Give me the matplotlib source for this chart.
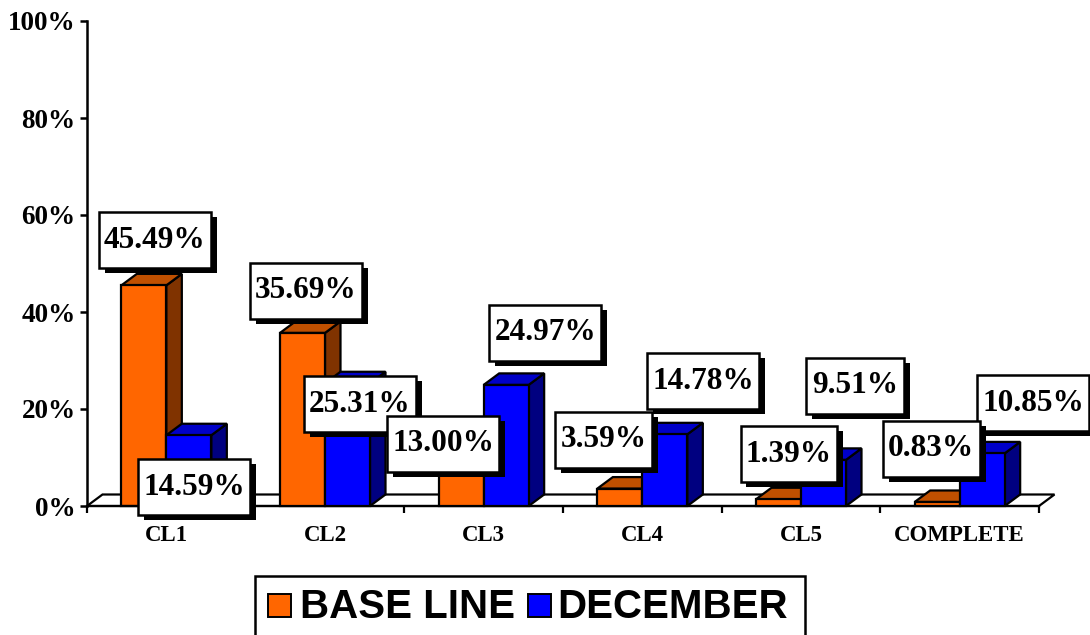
import matplotlib
matplotlib.use('Agg')
import matplotlib.pyplot as plt
from matplotlib.patches import Polygon, Rectangle

# ---------------- data ----------------
categories = ['CL1', 'CL2', 'CL3', 'CL4', 'CL5', 'COMPLETE']
base_line = [45.49, 35.69, 13.00, 3.59, 1.39, 0.83]
december = [14.59, 25.31, 24.97, 14.78, 9.51, 10.85]
series_names = ['BASE LINE', 'DECEMBER']
y_ticks = [0, 20, 40, 60, 80, 100]
y_tick_labels = ['0%', '20%', '40%', '60%', '80%', '100%']

# ---------------- layout / style ----------------
# label centre offsets from the top-front-centre of each bar, in pixels (x right, y down)
base_label_off = [(11, -45), (3.5, -42), (-18, 1), (-16, -49), (10.5, -45), (-6, -53)]
dec_label_off = [(5, 52), (12.5, 21), (39, -52), (38, -53), (31.5, -74), (51, -50)]

ORANGE = ('#FF6600', '#C05000', '#803300')   # front, top, side
BLUE = ('#0000FF', '#0000C8', '#000080')
SERIF = 'Liberation Serif'
SANS = 'Liberation Sans'

W, H = 1090, 635
fig = plt.figure(figsize=(W / 100, H / 100), dpi=100)
L, R, B, T = 87, 1039, 506, 21
ax = fig.add_axes([L / W, (H - B) / H, (R - L) / W, (B - T) / H])
n = len(categories)
ax.set_xlim(0, n)
ax.set_ylim(0, 100)
ux = (R - L) / n
uy = (B - T) / 100.0


def pdx(p):
    return p / ux


def pdy(p):
    return p / uy


DX = pdx(15.5)
DY = pdy(11.5)
BW = pdx(45)

# floor
ax.add_patch(Polygon([(0, 0), (n, 0), (n + DX, DY), (DX, DY)], closed=True,
                     facecolor='white', edgecolor='black', lw=1.6,
                     clip_on=False, zorder=1))


def draw_bar(x0, v, cols, z):
    front, top, side = cols
    ax.add_patch(Polygon([(x0 + BW, 0), (x0 + BW + DX, DY), (x0 + BW + DX, v + DY), (x0 + BW, v)],
                         closed=True, facecolor=side, edgecolor='black', lw=1.6,
                         clip_on=False, zorder=z))
    ax.add_patch(Polygon([(x0, v), (x0 + BW, v), (x0 + BW + DX, v + DY), (x0 + DX, v + DY)],
                         closed=True, facecolor=top, edgecolor='black', lw=1.6,
                         clip_on=False, zorder=z))
    ax.add_patch(Rectangle((x0, 0), BW, v, facecolor=front, edgecolor='black', lw=1.6,
                           clip_on=False, zorder=z + 0.1))


z = 2
for i in range(n):
    c = i + 0.5
    draw_bar(c - BW, base_line[i], ORANGE, z)
    z += 0.5
    draw_bar(c, december[i], BLUE, z)
    z += 0.5


def draw_label(xc, v, off, text, zl):
    cx = xc + pdx(off[0])
    cy = v - pdy(off[1])
    wpx = 112 if len(text) >= 6 else 97
    hpx = 56
    w, h = pdx(wpx), pdy(hpx)
    ax.add_patch(Rectangle((cx - w / 2 + pdx(6), cy - h / 2 - pdy(5)), w, h,
                           facecolor='black', edgecolor='black', lw=0,
                           clip_on=False, zorder=zl))
    ax.add_patch(Rectangle((cx - w / 2, cy - h / 2), w, h,
                           facecolor='white', edgecolor='black', lw=1.8,
                           clip_on=False, zorder=zl + 0.1))
    ax.text(cx, cy, text, ha='center', va='center', fontsize=22.5,
            fontfamily=SERIF, fontweight='bold', color='black',
            clip_on=False, zorder=zl + 0.2)


zl = 20
for i in range(n):
    draw_label(i + 0.5 + BW / 2, december[i], dec_label_off[i], f'{december[i]:.2f}%', zl)
    zl += 1
for i in range(n):
    draw_label(i + 0.5 - BW / 2, base_line[i], base_label_off[i], f'{base_line[i]:.2f}%', zl)
    zl += 1

# axes styling
for s in ['top', 'right']:
    ax.spines[s].set_visible(False)
ax.spines['left'].set_linewidth(1.8)
ax.spines['bottom'].set_linewidth(1.6)
ax.spines['left'].set_zorder(3)
ax.patch.set_visible(False)

ax.set_yticks(y_ticks)
ax.set_yticklabels(y_tick_labels, fontfamily=SERIF, fontweight='bold', fontsize=19.5)
ax.tick_params(axis='y', direction='out', length=5.2, width=1.8, pad=3)

ax.set_xticks([i + 0.5 for i in range(n)])
ax.set_xticklabels(categories, fontfamily=SERIF, fontweight='bold', fontsize=16.5)
ax.set_xticks(list(range(n + 1)), minor=True)
ax.tick_params(axis='x', which='major', length=0, pad=14)
ax.tick_params(axis='x', which='minor', direction='out', length=5.2, width=1.6)

# legend (pixel overlay)
ov = fig.add_axes([0, 0, 1, 1])
ov.set_xlim(0, W)
ov.set_ylim(H, 0)
ov.axis('off')
ov.patch.set_visible(False)
ov.add_patch(Rectangle((255, 576), 550, 70, facecolor='white', edgecolor='black', lw=1.8))
ov.add_patch(Rectangle((268, 594), 23, 23, facecolor=ORANGE[0], edgecolor='black', lw=1.4))
ov.text(300, 607, series_names[0], ha='left', va='center', fontsize=29,
        fontfamily=SANS, fontweight='bold')
ov.add_patch(Rectangle((528, 594), 23, 23, facecolor=BLUE[0], edgecolor='black', lw=1.4))
ov.text(557, 607, series_names[1], ha='left', va='center', fontsize=29,
        fontfamily=SANS, fontweight='bold')

fig.savefig('out.png', dpi=100, facecolor='white')
